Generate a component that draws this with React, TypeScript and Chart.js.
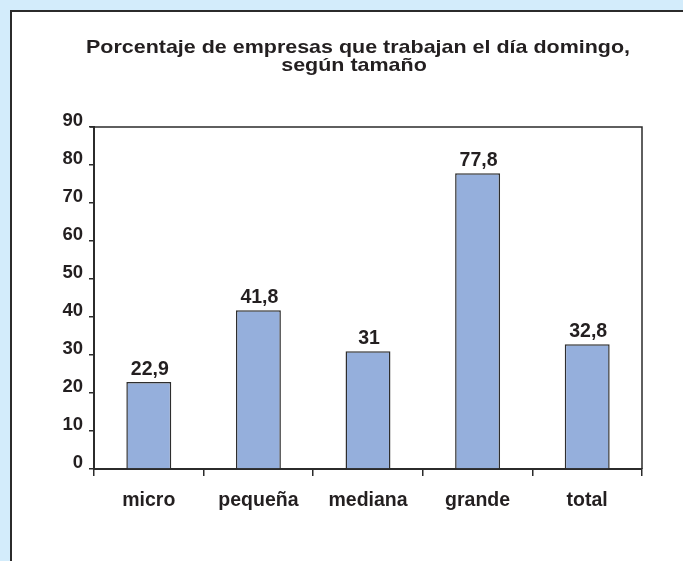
import React, { useEffect, useRef } from "react";
import { Chart, registerables } from "chart.js";

Chart.register(...registerables);

const titleLines = ["Porcentaje de empresas que trabajan el día domingo,", "según tamaño"];
const categories = ["micro", "pequeña", "mediana", "grande", "total"];
const values = [22.9, 41.8, 31, 77.8, 32.8];
const yTicks = [0, 10, 20, 30, 40, 50, 60, 70, 80, 90];

const FONT = "'Liberation Sans', Arial, sans-serif";
const TEXT = "#231f20";

const fmt = (v: number) => String(v).replace(".", ",");

const framePlugin = {
  id: "frame",
  afterDraw(chart: any) {
    const { ctx, chartArea } = chart;
    ctx.save();
    ctx.strokeStyle = "#2b2b2b";
    ctx.lineWidth = 1.5;
    ctx.beginPath();
    ctx.moveTo(chartArea.left - 4, chartArea.top);
    ctx.lineTo(chartArea.right, chartArea.top);
    ctx.lineTo(chartArea.right, chartArea.bottom);
    ctx.stroke();
    ctx.restore();
  },
};

const labelPlugin = {
  id: "valueLabels",
  afterDatasetsDraw(chart: any) {
    const { ctx } = chart;
    const meta = chart.getDatasetMeta(0);
    ctx.save();
    ctx.fillStyle = TEXT;
    ctx.font = `bold 19.5px ${FONT}`;
    ctx.textAlign = "center";
    ctx.textBaseline = "alphabetic";
    meta.data.forEach((bar: any, i: number) => {
      ctx.fillText(fmt(values[i]), bar.x + 1, bar.y - 7);
    });
    ctx.restore();
  },
};

const titlePlugin = {
  id: "customTitle",
  afterDraw(chart: any) {
    const { ctx } = chart;
    const sx = 1.13;
    ctx.save();
    ctx.fillStyle = TEXT;
    ctx.font = `bold 19px ${FONT}`;
    ctx.textAlign = "center";
    ctx.textBaseline = "alphabetic";
    ctx.scale(sx, 1);
    ctx.fillText(titleLines[0], 358 / sx, 53);
    ctx.fillText(titleLines[1], 354 / sx, 71);
    ctx.restore();
  },
};

export default function App() {
  const ref = useRef<HTMLCanvasElement>(null);
  useEffect(() => {
    document.body.style.margin = "0";
    const chart = new Chart(ref.current!, {
      type: "bar",
      data: {
        labels: categories,
        datasets: [
          {
            data: values,
            backgroundColor: "#95afdc",
            borderColor: "#2e2e2e",
            borderWidth: 1.5,
            barPercentage: 0.41,
            categoryPercentage: 1,
          },
        ],
      },
      options: {
        animation: false,
        responsive: false,
        maintainAspectRatio: false,
        layout: { padding: { left: 0, right: 41, top: 127, bottom: 0 } },
        plugins: { legend: { display: false }, tooltip: { enabled: false }, title: { display: false } },
        scales: {
          x: {
            offset: true,
            grid: {
              offset: true,
              drawOnChartArea: false,
              drawTicks: true,
              tickLength: 7,
              color: "#2b2b2b",
              lineWidth: 1.5,
            },
            border: { display: true, color: "#2b2b2b", width: 2 },
            ticks: { color: TEXT, font: { family: FONT, size: 19.5, weight: "bold" }, padding: 13 },
            afterFit(scale: any) {
              scale.height = 92;
            },
          },
          y: {
            min: 0,
            max: 90,
            afterBuildTicks(scale: any) {
              scale.ticks = yTicks.map((v) => ({ value: v }));
            },
            grid: {
              drawOnChartArea: false,
              drawTicks: true,
              tickLength: 5,
              color: "#2b2b2b",
              lineWidth: 1.5,
            },
            border: { display: true, color: "#2b2b2b", width: 2 },
            ticks: {
              color: TEXT,
              font: { family: FONT, size: 18.5, weight: "bold" },
              padding: 6,
              labelOffset: -6.5,
            },
            afterFit(scale: any) {
              scale.width = 94;
            },
          },
        },
      },
      plugins: [framePlugin, labelPlugin, titlePlugin],
    });
    return () => chart.destroy();
  }, []);

  return (
    <div style={{ position: "relative", width: 683, height: 561, background: "#d3ecfb", overflow: "hidden" }}>
      <div
        style={{
          position: "absolute",
          left: 10,
          top: 10,
          width: 720,
          height: 600,
          background: "#ffffff",
          border: "2px solid #2b2b2b",
        }}
      />
      <canvas ref={ref} width={683} height={561} style={{ position: "absolute", left: 0, top: 0 }} />
    </div>
  );
}
